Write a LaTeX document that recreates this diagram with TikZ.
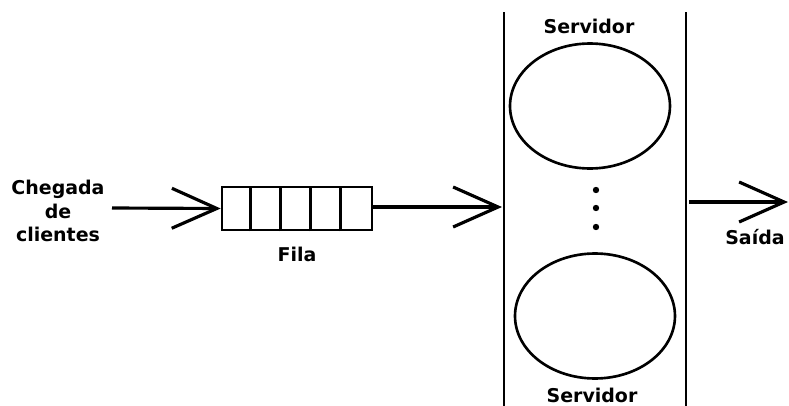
\documentclass[tikz,border=0pt]{standalone}
\usepackage{fontspec}
\setmainfont{DejaVu Sans}
\usepackage{tikz}
\usetikzlibrary{arrows.meta, positioning, shapes.geometric}

\begin{document}
\begin{tikzpicture}[x=0.02cm, y=-0.02cm,
  >={Straight Barb[length=0.9cm, width=0.8cm]},
  flow/.style={->, line width=1.8pt},
  label/.style={font=\fontsize{10.8}{13.5}\selectfont\bfseries, align=center, inner sep=0pt},
  server/.style={draw, ellipse, line width=1.5pt, minimum width=3.2cm, minimum height=2.5cm}]

\useasboundingbox (0, 0) rectangle (789, 406);

\def \xwalla{504}
\def \xwallb{686}
\def \celwidth{0.6cm}

% server walls
\draw[line width=1.6pt] (\xwalla, 12) -- (\xwalla, 406);
\draw[line width=1.6pt] (\xwallb, 12) -- (\xwallb, 406);

% queue
\node[draw, line width=1.5pt, minimum width=3cm, minimum height=0.86cm, inner sep=0pt] (fila) at (297, 208.5) {};
\foreach \i in {1,...,4}
  \draw[line width=1.5pt] ([xshift=\i*\celwidth]fila.south west) -- ([xshift=\i*\celwidth]fila.north west);

% servers
\node[server] (srva) at (590, 106) {};
\node[server] (srvb) at (595, 316) {};
\foreach \y in {190, 208, 227}
  \fill (596, \y) circle (3.2);

% text
\node[label] (chegada) at (58, 211) {Chegada\\de\\clientes};
\node[label, below=0.31cm of fila] (lfila) {Fila};
\node[label] (lsrva) at (589, 26) {Servidor};
\node[label] (lsrvb) at (592, 395) {Servidor};
\node[label] (lsaida) at (755, 237) {Saída};

% arrows
\coordinate (ini) at (112, 208);
\coordinate (ent) at (502, 207);
\coordinate (sai) at (689, 202);
\coordinate (fim) at (788, 202);
\draw[flow] (ini) -- (fila.west);
\draw[flow] (fila.east |- ent) -- (ent);
\draw[flow] (sai) -- (fim);

\end{tikzpicture}
\end{document}
